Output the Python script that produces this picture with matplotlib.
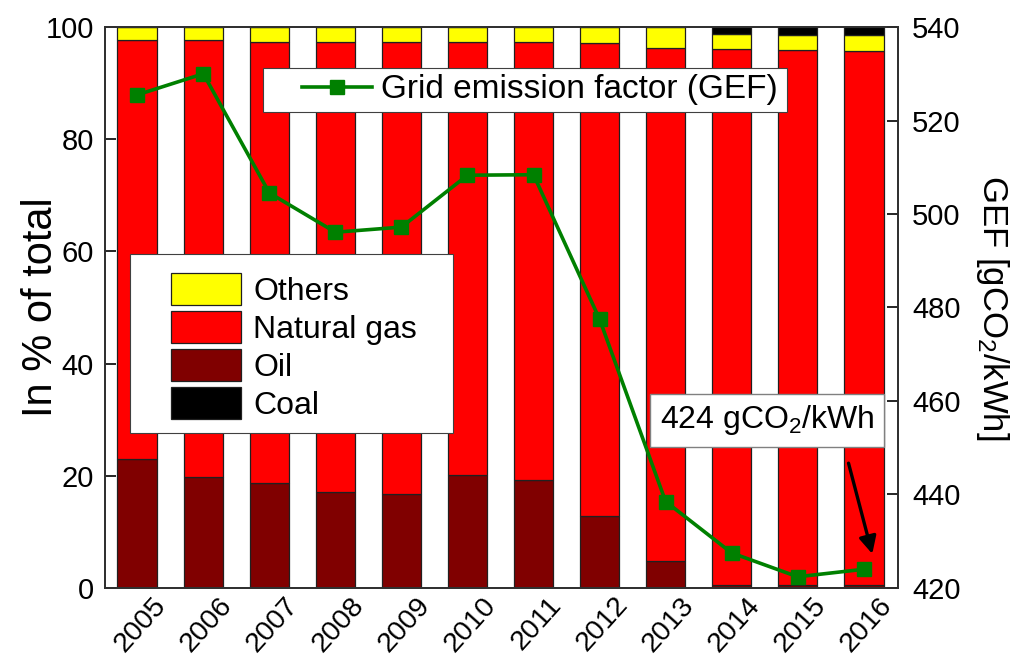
import matplotlib
matplotlib.use("Agg")
import matplotlib.pyplot as plt
from matplotlib.patches import Rectangle
import numpy as np

plt.rcParams["font.family"] = ["Liberation Sans", "DejaVu Sans"]
plt.rcParams["mathtext.default"] = "regular"

years = ["2005", "2006", "2007", "2008", "2009", "2010",
         "2011", "2012", "2013", "2014", "2015", "2016"]
oil = [23.0, 19.7, 18.8, 17.1, 16.7, 20.1, 19.3, 12.8, 4.9, 0.5, 0.5, 0.5]
natural_gas = [74.6, 77.9, 78.5, 80.2, 80.6, 77.2, 78.0, 84.4, 91.4, 95.6, 95.4, 95.3]
others = [2.4, 2.4, 2.7, 2.7, 2.7, 2.7, 2.7, 2.8, 3.7, 2.7, 2.7, 2.7]
coal = [0.0, 0.0, 0.0, 0.0, 0.0, 0.0, 0.0, 0.0, 0.0, 1.2, 1.4, 1.5]
gef = [525.5, 530.0, 504.5, 496.1, 497.2, 508.3, 508.4, 477.5, 438.5, 427.5, 422.4, 424.0]

FS = 21
fig = plt.figure(figsize=(10.16, 6.62), dpi=100)
ax = fig.add_axes([0.1033, 0.1118, 0.7806, 0.8474])

x = np.arange(len(years))
w = 0.6
edge = dict(edgecolor="#202020", linewidth=0.9)
b_oil = ax.bar(x, oil, w, color="#800000", label="Oil", **edge)
bottom = np.array(oil)
b_gas = ax.bar(x, natural_gas, w, bottom=bottom, color="#FF0000", label="Natural gas", **edge)
bottom = bottom + np.array(natural_gas)
b_oth = ax.bar(x, others, w, bottom=bottom, color="#FFFF00", label="Others", **edge)
bottom = bottom + np.array(others)
b_coal = ax.bar(x, coal, w, bottom=bottom, color="#000000", label="Coal", **edge)

ax.set_xlim(-0.49, 11.52)
ax.set_ylim(0, 100)
ax.set_yticks([0, 20, 40, 60, 80, 100])
ax.set_xticks(x + 0.05)
ax.set_xticklabels(years, rotation=48, ha="center", va="top")
ax.tick_params(axis="x", direction="in", length=0, labelsize=20.5, pad=3)
ax.tick_params(axis="y", direction="in", length=8, width=1.2, labelsize=FS, pad=8)
ax.set_ylabel("In % of total", fontsize=30)
ax.yaxis.set_label_coords(-0.0555, 0.5)
for s in ax.spines.values():
    s.set_linewidth(1.3)
    s.set_color("#303030")

# Legend for the fuel mix, with its own white panel behind
panel = Rectangle((0.0315, 0.276), 0.407, 0.319, transform=ax.transAxes,
                  facecolor="white", edgecolor="#404040", linewidth=0.8, zorder=3)
ax.add_patch(panel)
leg1 = ax.legend([b_oth, b_gas, b_oil, b_coal], ["Others", "Natural gas", "Oil", "Coal"],
                 loc="center", bbox_to_anchor=(0.238, 0.43), frameon=False,
                 fontsize=23, handlelength=2.2, handleheight=1.2,
                 labelspacing=0.12, handletextpad=0.38)
leg1.set_zorder(4)

ax2 = ax.twinx()
ax2.set_ylim(420, 540)
ax2.set_yticks([420, 440, 460, 480, 500, 520, 540])
ax2.tick_params(axis="y", direction="in", length=8, width=1.2, labelsize=FS, pad=10)
ax2.set_ylabel("GEF [gCO$_2$/kWh]", fontsize=25, rotation=270, labelpad=36)
for s in ax2.spines.values():
    s.set_linewidth(1.3)
    s.set_color("#303030")

line, = ax2.plot(x, gef, color="#008000", linewidth=2.6, marker="s",
                 markersize=10, markeredgecolor="#008000",
                 label="Grid emission factor (GEF)", zorder=3)

# Legend for the emission factor line, on a wider white panel
panel2 = Rectangle((0.1992, 0.8485), 0.6608, 0.0785, transform=ax2.transAxes,
                   facecolor="white", edgecolor="#404040", linewidth=0.8, zorder=4)
ax2.add_patch(panel2)
leg2 = ax2.legend(loc="center", bbox_to_anchor=(0.5485, 0.888), fontsize=24,
                  frameon=False, handlelength=2.1, borderpad=0.25,
                  handletextpad=0.25)
leg2.set_zorder(5)

ax2.text(9.54, 455.9, "424 gCO$_2$/kWh", fontsize=23, ha="center", va="center",
         zorder=6,
         bbox=dict(boxstyle="square,pad=0.3", facecolor="white",
                   edgecolor="#808080", linewidth=1))
ax2.annotate("", xy=(11.13, 427.3), xytext=(10.77, 446.7),
             arrowprops=dict(arrowstyle="-|>", color="black", lw=2.4,
                             mutation_scale=26, shrinkA=0, shrinkB=0),
             zorder=6)

fig.savefig("out.png", dpi=100)
